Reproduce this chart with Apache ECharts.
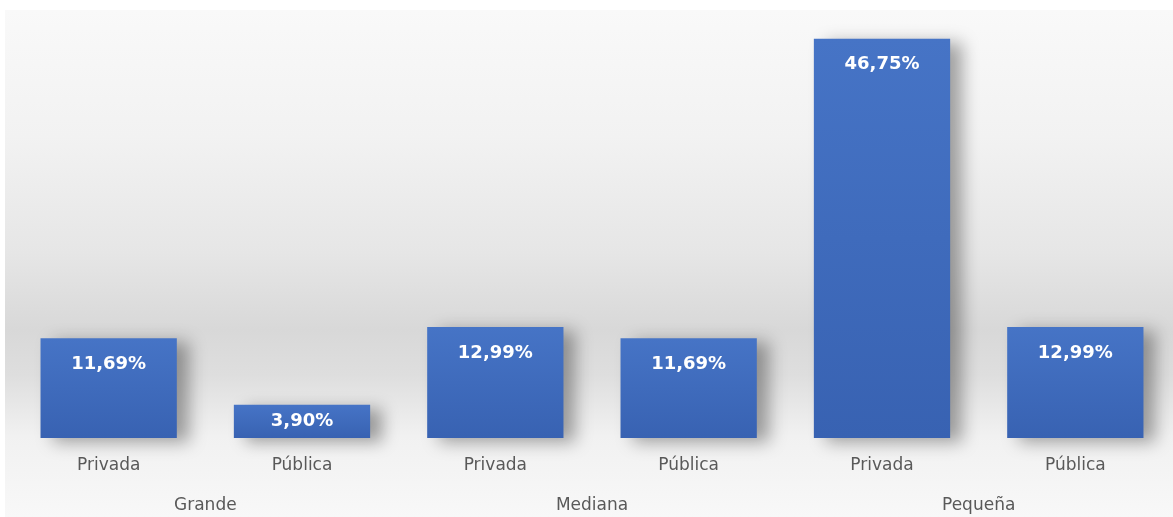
<!DOCTYPE html>
<html>
<head>
<meta charset="utf-8">
<script src="https://cdn.jsdelivr.net/npm/echarts@6/dist/echarts.min.js"></script>
<style>
  html, body { margin: 0; padding: 0; background: #ffffff; }
  .wrap { position: relative; width: 1173px; height: 517px; }
  /* panel with the grey gradient behind the chart */
  .panel {
    position: absolute; left: 5px; top: 10px; right: 0; bottom: 0;
    background: linear-gradient(to bottom, #f9f9f9 0%, #f2f2f2 25%, #e6e6e6 48%, #d8d8d8 63%, #dedede 72%, #f1f1f1 84%, #f8f8f8 100%);
  }
  #chart { position: absolute; left: 0; top: 0; width: 1173px; height: 517px; }
</style>
</head>
<body>
<div class="wrap">
  <div class="panel"></div>
  <div id="chart"></div>
</div>
<script>
// datos
const subCategories = ['Privada', 'Pública', 'Privada', 'Pública', 'Privada', 'Pública'];
const groups = ['Grande', 'Mediana', 'Pequeña'];
const values = [11.69, 3.90, 12.99, 11.69, 46.75, 12.99];

const chart = echarts.init(document.getElementById('chart'));

const fmt = v => v.toFixed(2).replace('.', ',') + '%';

const option = {
  backgroundColor: 'transparent',
  grid: { left: 12, right: 1, top: 11, bottom: 79 },
  xAxis: [
    {
      type: 'category',
      data: subCategories,
      axisLine: { show: false },
      axisTick: { show: false },
      axisLabel: { color: '#595959', fontFamily: 'DejaVu Sans', fontSize: 17, margin: 19 }
    },
    {
      type: 'category',
      data: groups,
      position: 'bottom',
      offset: 40,
      axisLine: { show: false },
      axisTick: { show: false },
      axisLabel: { color: '#595959', fontFamily: 'DejaVu Sans', fontSize: 17, margin: 19 }
    }
  ],
  yAxis: {
    type: 'value',
    min: 0,
    max: 50,
    show: false
  },
  series: [
    {
      type: 'bar',
      xAxisIndex: 0,
      barCategoryGap: '29.5%',
      data: values.map(v => ({
        value: v,
        label: v < 5 ? { position: 'inside' } : {}
      })),
      itemStyle: {
        color: new echarts.graphic.LinearGradient(0, 0, 0, 1, [
          { offset: 0, color: '#4674c6' },
          { offset: 1, color: '#3862b2' }
        ]),
        shadowColor: 'rgba(0,0,0,0.35)',
        shadowBlur: 16,
        shadowOffsetX: 12,
        shadowOffsetY: 4
      },
      label: {
        show: true,
        position: 'insideTop',
        distance: 17,
        color: '#ffffff',
        fontFamily: 'DejaVu Sans',
        fontWeight: 'bold',
        fontSize: 18,
        formatter: p => fmt(p.value)
      }
    }
  ]
};

chart.setOption(option);
window.addEventListener('resize', () => chart.resize());
</script>
</body>
</html>
